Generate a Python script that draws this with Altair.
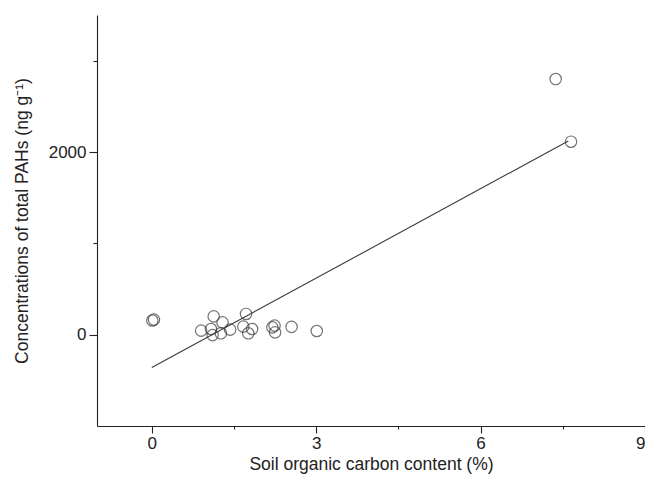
import altair as alt
import pandas as pd

# Data
soc = [0.01, 0.04, 0.90, 1.08, 1.13, 1.11, 1.26, 1.29, 1.43, 1.67,
       1.72, 1.76, 1.83, 2.20, 2.25, 2.24, 2.55, 3.01, 7.37, 7.65]
pah = [155, 165, 44, 62, 200, -5, 15, 135, 55, 88,
       227, 15, 62, 80, 25, 99, 85, 40, 2799, 2113]

# fitted line (end points)
fit_soc = [0.0, 7.6]
fit_pah = [-360, 2120]

x_major = [0, 3, 6, 9]
x_minor = [1.5, 4.5, 7.5]
y_major = [0, 2000]
y_minor = [1000, 3000]

pts_df = pd.DataFrame({"soc": soc, "pah": pah})
fit_df = pd.DataFrame({"soc": fit_soc, "pah": fit_pah})

FONT = "Liberation Sans"
xscale = alt.Scale(domain=[-1, 9], nice=False, zero=False)
yscale = alt.Scale(domain=[-1000, 3500], nice=False, zero=False)

pts = alt.Chart(pts_df).mark_point(
    shape="circle", filled=False, size=130, stroke="#3a3a3a", strokeWidth=1.2
).encode(
    x=alt.X("soc:Q", scale=xscale,
            axis=alt.Axis(values=x_major, tickSize=7, title="Soil organic carbon content (%)",
                          orient="bottom", labelPadding=2, titlePadding=4, grid=False,
                          format="d")),
    y=alt.Y("pah:Q", scale=yscale,
            axis=alt.Axis(values=y_major, tickSize=8, title="Concentrations of total PAHs (ng g⁻¹)",
                          orient="left", labelPadding=3, titlePadding=17, grid=False,
                          format="d")),
)

line = alt.Chart(fit_df).mark_line(color="#3a3a3a", strokeWidth=1.1).encode(
    x=alt.X("soc:Q", scale=xscale,
            axis=alt.Axis(values=x_minor, tickSize=3, labels=False, domain=False,
                          title=None, orient="bottom", grid=False)),
    y=alt.Y("pah:Q", scale=yscale,
            axis=alt.Axis(values=y_minor, tickSize=4, labels=False, domain=False,
                          title=None, orient="left", grid=False)),
)

chart = alt.layer(pts, line).resolve_axis(x="independent", y="independent").properties(
    width=548, height=411,
    autosize=alt.AutoSizeParams(type="none"),
    padding={"left": 89, "top": 7, "right": 0, "bottom": 48},
).configure_view(stroke=None).configure_axis(
    labelFont=FONT, titleFont=FONT, labelFontSize=17, titleFontSize=17.5,
    titleFontWeight="normal", labelColor="#222", titleColor="#222",
    domainColor="#222", tickColor="#222", domainWidth=1.1, tickWidth=1.1,
)

chart.save("out.html", embed_options={"renderer": "svg", "actions": False})
